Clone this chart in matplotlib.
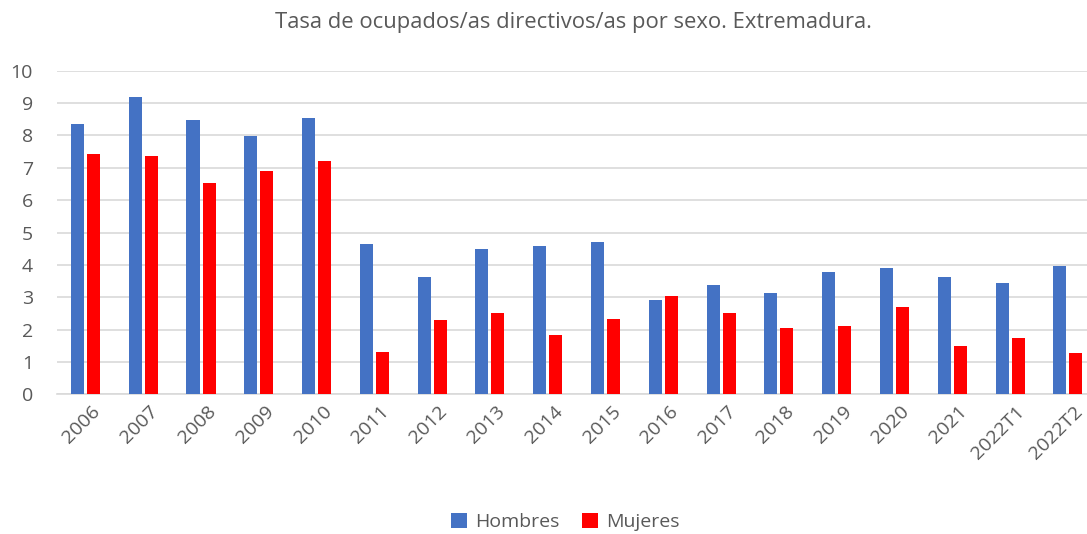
import matplotlib
matplotlib.use("Agg")
import matplotlib.pyplot as plt
import numpy as np

categories = ["2006", "2007", "2008", "2009", "2010", "2011", "2012", "2013", "2014",
              "2015", "2016", "2017", "2018", "2019", "2020", "2021", "2022T1", "2022T2"]
hombres = [8.35, 9.20, 8.47, 7.97, 8.53, 4.63, 3.63, 4.48, 4.58,
           4.72, 2.91, 3.39, 3.12, 3.77, 3.90, 3.61, 3.45, 3.95]
mujeres = [7.42, 7.35, 6.53, 6.89, 7.21, 1.30, 2.29, 2.51, 1.82,
           2.33, 3.03, 2.50, 2.05, 2.10, 2.69, 1.48, 1.74, 1.27]
yticks = list(range(0, 11))
title = "Tasa de ocupados/as directivos/as por sexo. Extremadura."

plt.rcParams['font.family'] = ['Open Sans', 'DejaVu Sans']
text_color = "#595959"
grid_color = "#D9D9D9"

fig = plt.figure(figsize=(10.87, 5.34), dpi=100)
ax = fig.add_axes([0.052, 0.2616, 0.957, 0.606])

x = np.arange(len(categories))
w = 0.225
off = 0.1385
b1 = ax.bar(x - off, hombres, width=w, color="#4472C4", label="Hombres", zorder=3)
b2 = ax.bar(x + off, mujeres, width=w, color="#FF0000", label="Mujeres", zorder=3)

ax.set_xlim(-0.5, len(categories) - 0.5)
ax.set_ylim(0, 10)
ax.set_yticks(yticks)
ax.set_yticklabels([str(v) for v in yticks], fontsize=14, color=text_color)
ax.yaxis.grid(True, color=grid_color, linewidth=1.2, zorder=0)
ax.set_axisbelow(True)
for s in ["top", "right", "left"]:
    ax.spines[s].set_visible(False)
ax.spines["bottom"].set_color(grid_color)
ax.spines["bottom"].set_linewidth(1.2)
ax.tick_params(axis="both", length=0)
ax.tick_params(axis="y", pad=17)

ax.set_xticks(x + 0.1)
ax.set_xticklabels(categories, rotation=45, ha="right", va="top",
                   rotation_mode="anchor", fontsize=14, color=text_color)
ax.tick_params(axis="x", pad=6)

fig.text(0.528, 0.957, title, ha="center", va="center", fontsize=15.8, color=text_color)

fig.legend(handles=[b1, b2], labels=["Hombres", "Mujeres"], loc="center",
           bbox_to_anchor=(0.52, 0.022), ncol=2, frameon=False, fontsize=14,
           handlelength=0.8, handleheight=0.8, handletextpad=0.4, columnspacing=1.2,
           labelcolor=text_color)

fig.savefig("out.png", dpi=100)
